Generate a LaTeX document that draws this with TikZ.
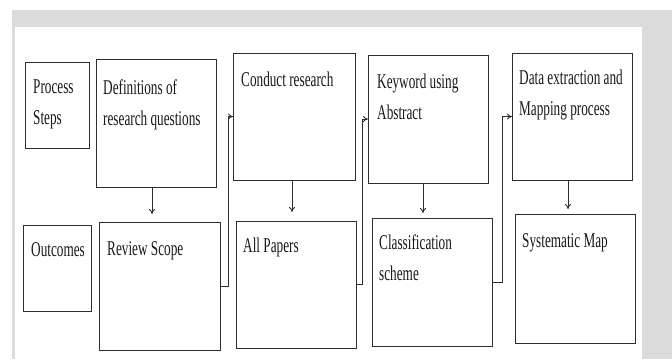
\documentclass[tikz,border=0pt]{standalone}
\usepackage{fontspec}
\setmainfont{Liberation Serif}[FakeStretch=0.63]
\usetikzlibrary{calc,arrows.meta}
\definecolor{framegray}{RGB}{219,219,219}
\definecolor{inkgray}{RGB}{45,45,45}
\tikzset{
  box/.style={draw=inkgray, line width=0.9pt, fill=white, inner sep=0pt, outer sep=0pt, anchor=north west},
  % base west of a multi-line label is the baseline of its last line
  lbl/.style={text=black!90, inner sep=0pt, anchor=base west, align=left,
              font=\fontsize{21}{31}\selectfont},
  flow/.style={draw=inkgray, line width=0.9pt, -{To[length=5pt,width=6pt]}},
}
\begin{document}
\begin{tikzpicture}[x=1pt,y=-1pt]
  \useasboundingbox (0,0) rectangle (672,359);
  % page frame: grey band and white panel
  \fill[white] (0,0) rectangle (672,359);
  \fill[framegray] (12,10) rectangle (672,359);
  \fill[white] (15,27) rectangle (642,359);

  % row headings
  \node[box, minimum width=64pt, minimum height=86pt] (ps) at (25,62) {};
  \node[lbl] at ($(ps.north west)+(8,32+30)$) {Process\\Steps};
  \node[box, minimum width=68pt, minimum height=86pt] (oc) at (23,225) {};
  \node[lbl] at ($(oc.north west)+(8,31)$) {Outcomes};

  % process steps
  \node[box, minimum width=120pt, minimum height=128pt] (def) at (96,59) {};
  \node[lbl] at ($(def.north west)+(7,35+31)$) {Definitions of\\research questions};
  \node[box, minimum width=122pt, minimum height=127pt] (con) at (233,53) {};
  \node[lbl] at ($(con.north west)+(8,33)$) {Conduct research};
  \node[box, minimum width=120pt, minimum height=128pt] (key) at (368,55) {};
  \node[lbl] at ($(key.north west)+(9,31+33)$) {Keyword using\\Abstract};
  \node[box, minimum width=120pt, minimum height=127pt] (dat) at (512,53) {};
  \node[lbl] at ($(dat.north west)+(7,31+31)$) {Data extraction and\\Mapping process};

  % outcomes
  \node[box, minimum width=121pt, minimum height=128pt] (rev) at (99,222) {};
  \node[lbl] at ($(rev.north west)+(8,33)$) {Review Scope};
  \node[box, minimum width=120pt, minimum height=127pt] (all) at (236,221) {};
  \node[lbl] at ($(all.north west)+(7,31)$) {All Papers};
  \node[box, minimum width=120pt, minimum height=128pt] (cls) at (372,218) {};
  \node[lbl] at ($(cls.north west)+(7,30+32)$) {Classification\\scheme};
  \node[box, minimum width=120pt, minimum height=129pt] (sys) at (515,214) {};
  \node[lbl] at ($(sys.north west)+(7,33)$) {Systematic Map};

  % step -> outcome
  \draw[flow] ([xshift=-4pt]def.south) -- ([xshift=-4pt]def.south |- rev.north) [shorten >=8pt];
  \draw[flow] ([xshift=-2pt]con.south) -- ([xshift=-2pt]con.south |- all.north) [shorten >=9pt];
  \draw[flow] ([xshift=-5pt]key.south) -- ([xshift=-5pt]key.south |- cls.north) [shorten >=5pt];
  \draw[flow] ([xshift=-4pt]dat.south) -- ([xshift=-4pt]dat.south |- sys.north) [shorten >=5pt];

  % outcome -> next step
  \draw[flow] (rev.east) -- ++(8,0) |- (con.west);
  \draw[flow] (all.east) -- ++(6,0) |- (key.west);
  \draw[flow] (cls.east) -- ++(10,0) |- (dat.west);
\end{tikzpicture}
\end{document}
